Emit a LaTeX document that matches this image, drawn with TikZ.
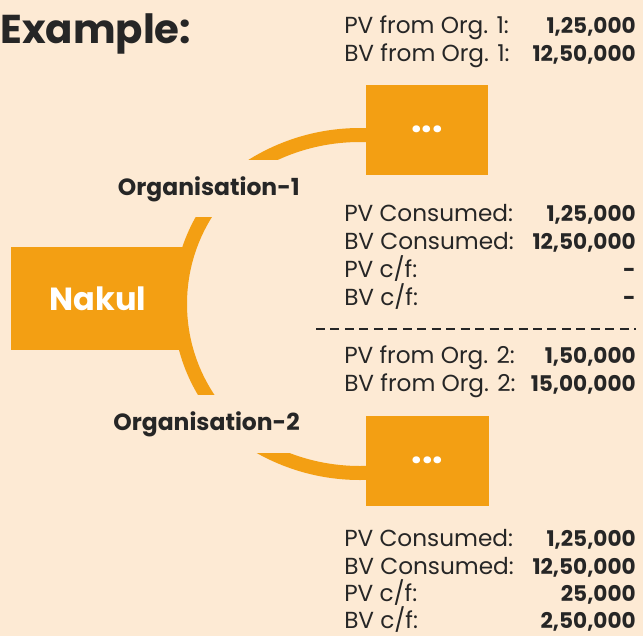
\documentclass[tikz,border=0pt]{standalone}
\usepackage{fontspec}
\setmainfont{Poppins}
\definecolor{peach}{RGB}{253,234,212}
\definecolor{amber}{RGB}{243,159,19}
\definecolor{ink}{RGB}{38,38,38}
\newcommand{\rowfont}{\fontsize{17.4}{20}\selectfont}
\tikzset{
  orgbox/.style={rectangle,fill=amber,inner sep=0pt},
  rowlbl/.style={anchor=base west,inner sep=0pt,text=ink,font=\rowfont},
  rowval/.style={anchor=base east,inner sep=0pt,text=ink,font=\fontsize{16.2}{20}\selectfont\bfseries},
  orglbl/.style={anchor=base east,inner sep=0pt,text=ink,font=\fontsize{17.6}{21}\selectfont\bfseries},
  dots/.style={anchor=base,inner sep=0pt,text=white,font=\fontsize{28}{32}\selectfont\bfseries},
}
\begin{document}
\begin{tikzpicture}[x=0.75pt,y=-0.75pt]
\fill[peach] (0,0) rectangle (643,636);
\useasboundingbox (0,0) rectangle (643,636);
%Arcs
\begin{scope}
\clip (230,100) rectangle (366,159);
\fill[amber,even odd rule] (360,339) circle[radius=211] (360,339) circle[radius=197];
\end{scope}
\begin{scope}
\clip (150,217) rectangle (260,394);
\fill[amber,even odd rule] (351,304) circle[radius=178] (351,304) circle[radius=164];
\end{scope}
\begin{scope}
\clip (230,453) rectangle (366,500);
\fill[amber,even odd rule] (360,269) circle[radius=211] (360,269) circle[radius=197];
\end{scope}
%Boxes
\node at (98,298.5) [orgbox,minimum width=130.5pt,minimum height=77.25pt,text=white,font=\fontsize{24}{29}\selectfont\bfseries] (Nakul) {Nakul};
\node at (427,130) [orgbox,minimum width=91.5pt,minimum height=67.5pt] (Box1) {};
\node at (427.5,461) [orgbox,minimum width=92.25pt,minimum height=67.5pt] (Box2) {};
\node at (Box1.center) [dots,yshift=-2.1pt] (Dots1) {...};
\node at (Box2.center) [dots,yshift=-2.1pt] (Dots2) {...};
%Titles
\node at (0,43) [anchor=base west,inner sep=0pt,text=ink,font=\fontsize{30.2}{36}\selectfont\bfseries] (Title) {Example:};
\node at (300,195) [orglbl] (Org1) {Organisation-1};
\node at (300,430) [orglbl] (Org2) {Organisation-2};
%Rows from Org. 1
\node at (344,33) [rowlbl] (L1) {PV from Org. 1:};
\node at (636,33) [rowval] (V1) {1,25,000};
\node at (344,61.5) [rowlbl] (L2) {BV from Org. 1:};
\node at (636,61.5) [rowval] (V2) {12,50,000};
\node at (344,221.5) [rowlbl] (L3) {PV Consumed:};
\node at (636,221.5) [rowval] (V3) {1,25,000};
\node at (344,249.5) [rowlbl] (L4) {BV Consumed:};
\node at (636,249.5) [rowval] (V4) {12,50,000};
\node at (344,277.5) [rowlbl] (L5) {PV c/f:};
\node at (636,277.5) [rowval] (V5) {-};
\node at (344,305.5) [rowlbl] (L6) {BV c/f:};
\node at (636,305.5) [rowval] (V6) {-};
%Separator
\coordinate (DashL) at (316,329);
\coordinate (DashR) at (636,329);
\draw [ink,line width=1.1pt,dash pattern=on 6.75pt off 4.1pt] (DashL) -- (DashR);
%Rows from Org. 2
\node at (344,363.5) [rowlbl] (L7) {PV from Org. 2:};
\node at (636,363.5) [rowval] (V7) {1,50,000};
\node at (344,391.5) [rowlbl] (L8) {BV from Org. 2:};
\node at (636,391.5) [rowval] (V8) {15,00,000};
\node at (344,546.5) [rowlbl] (L9) {PV Consumed:};
\node at (636,546.5) [rowval] (V9) {1,25,000};
\node at (344,574) [rowlbl] (L10) {BV Consumed:};
\node at (636,574) [rowval] (V10) {12,50,000};
\node at (344,601.5) [rowlbl] (L11) {PV c/f:};
\node at (636,601.5) [rowval] (V11) {25,000};
\node at (344,628.5) [rowlbl] (L12) {BV c/f:};
\node at (636,628.5) [rowval] (V12) {2,50,000};
\end{tikzpicture}
\end{document}
